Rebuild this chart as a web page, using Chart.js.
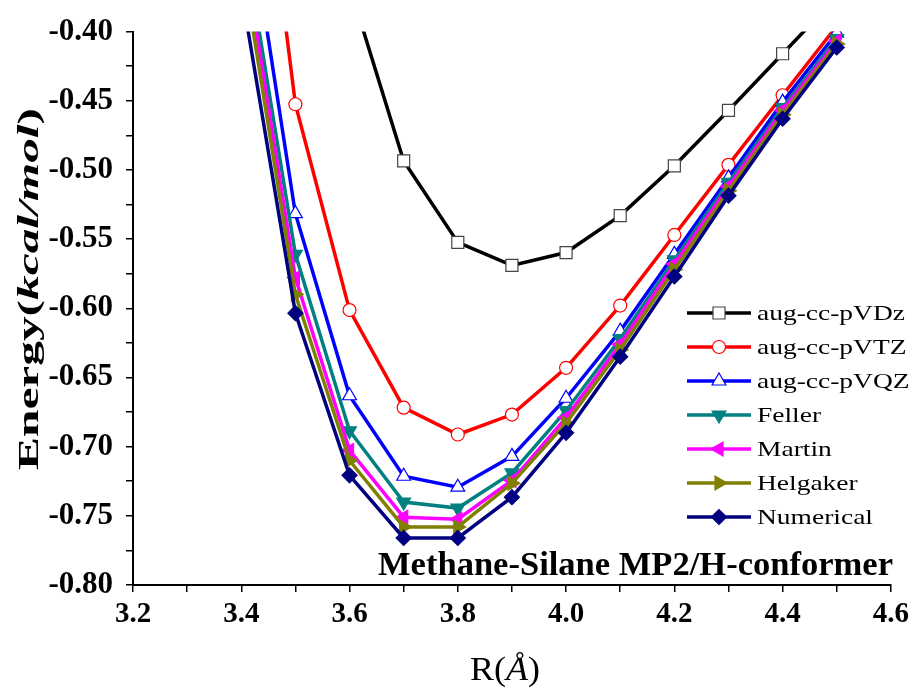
<!DOCTYPE html>
<html>
<head>
<meta charset="utf-8">
<script src="https://cdn.jsdelivr.net/npm/chart.js@4.4.1/dist/chart.umd.min.js"></script>
<style>
  body { margin: 0; background: #fff; }
</style>
</head>
<body>
<canvas id="myChart" width="914" height="691"></canvas>
<script>
// R (Angstrom) values
const rValues = [3.4, 3.5, 3.6, 3.7, 3.8, 3.9, 4.0, 4.1, 4.2, 4.3, 4.4, 4.5];

// energies in kcal/mol
const augDz = [0.10, -0.17, -0.367, -0.4935, -0.5524, -0.569, -0.5597, -0.533, -0.497, -0.457, -0.416, -0.375];
const augTz = [-0.14, -0.4525, -0.6013, -0.6718, -0.6912, -0.6768, -0.643, -0.598, -0.547, -0.4963, -0.446, -0.396];
const augQz = [-0.279, -0.5316, -0.6632, -0.7214, -0.7293, -0.707, -0.665, -0.6165, -0.561, -0.5057, -0.451, -0.401];
const feller = [-0.32, -0.561, -0.6885, -0.740, -0.7444, -0.719, -0.674, -0.622, -0.565, -0.509, -0.455, -0.405];
const martin = [-0.331, -0.578, -0.7027, -0.751, -0.7524, -0.7245, -0.679, -0.626, -0.568, -0.512, -0.457, -0.407];
const helgaker = [-0.346, -0.590, -0.710, -0.758, -0.758, -0.7265, -0.683, -0.630, -0.572, -0.515, -0.460, -0.409];
const numerical = [-0.37, -0.6035, -0.7207, -0.766, -0.766, -0.7365, -0.690, -0.635, -0.577, -0.5186, -0.463, -0.4115];

const seriesNames = ['aug-cc-pVDz', 'aug-cc-pVTZ', 'aug-cc-pVQZ', 'Feller', 'Martin', 'Helgaker', 'Numerical'];
const seriesData = [augDz, augTz, augQz, feller, martin, helgaker, numerical];

const serif = '"Liberation Serif", "Times New Roman", serif';

const styles = [
  { color: '#000000', border: '#444444', fill: '#ffffff', pointStyle: 'rect', radius: 8.5, rotation: 0 },
  { color: '#ff0000', border: '#ff0000', fill: '#ffffff', pointStyle: 'circle', radius: 6.5, rotation: 0 },
  { color: '#0000ff', border: '#0000ff', fill: '#ffffff', pointStyle: 'triangle', radius: 8, rotation: 0 },
  { color: '#008080', border: '#008080', fill: '#008080', pointStyle: 'triangle', radius: 8, rotation: 180 },
  { color: '#ff00ff', border: '#ff00ff', fill: '#ff00ff', pointStyle: 'triangle', radius: 8, rotation: 270 },
  { color: '#808000', border: '#808000', fill: '#808000', pointStyle: 'triangle', radius: 8, rotation: 90 },
  { color: '#000080', border: '#000080', fill: '#000080', pointStyle: 'rectRot', radius: 7.5, rotation: 0 }
];

const datasets = seriesNames.map((name, i) => ({
  label: name,
  data: rValues.map((r, j) => ({ x: r, y: seriesData[i][j] })),
  borderColor: styles[i].color,
  backgroundColor: styles[i].fill,
  borderWidth: 3.5,
  pointStyle: styles[i].pointStyle,
  pointRotation: styles[i].rotation,
  pointRadius: styles[i].radius,
  pointBorderColor: styles[i].border,
  pointBackgroundColor: styles[i].fill,
  pointBorderWidth: 1.2,
  tension: 0,
  order: 6 - i
}));

// draw text pieces stretched horizontally to a target width, starting at x
function stretchedText(c, parts, x, y, width) {
  let total = 0;
  parts.forEach(p => { c.font = p[0]; total += c.measureText(p[1]).width; });
  const sx = width ? width / total : 1;
  c.save();
  c.translate(x, y);
  c.scale(sx, 1);
  let px = 0;
  parts.forEach(p => { c.font = p[0]; c.fillText(p[1], px, 0); px += c.measureText(p[1]).width; });
  c.restore();
  return sx;
}

// legend, annotation and axis titles drawn by hand
const extras = {
  id: 'extras',
  afterDraw(chart) {
    const c = chart.ctx;
    c.save();
    c.textAlign = 'left';

    // legend inside the plot
    const legendFont = '22px ' + serif;
    c.font = legendFont;
    const legendScale = 148 / c.measureText(seriesNames[0]).width;
    styles.forEach((s, i) => {
      const y = 313 + i * 34;
      c.strokeStyle = s.color;
      c.lineWidth = 3.5;
      c.beginPath();
      c.moveTo(687, y);
      c.lineTo(751, y);
      c.stroke();
      c.fillStyle = s.fill;
      c.strokeStyle = s.border;
      c.lineWidth = 1.2;
      Chart.helpers.drawPoint(c, { pointStyle: s.pointStyle, rotation: s.rotation, radius: s.radius, borderWidth: 1.2 }, 719, y);
      c.fillStyle = '#000';
      c.textBaseline = 'middle';
      c.font = legendFont;
      const w = c.measureText(seriesNames[i]).width * legendScale;
      stretchedText(c, [[legendFont, seriesNames[i]]], 757, y + 1, w);
    });

    // annotation
    c.textBaseline = 'alphabetic';
    c.fillStyle = '#000';
    stretchedText(c, [['bold 33px ' + serif, 'Methane-Silane MP2/H-conformer']], 378, 575, 515);

    // y title: Energy(kcal/mol)
    c.save();
    c.translate(30, 289);
    c.rotate(-Math.PI / 2);
    c.textBaseline = 'middle';
    stretchedText(c, [['bold 30px ' + serif, 'Energy('], ['bold italic 30px ' + serif, 'kcal/mol'], ['bold 30px ' + serif, ')']], -181, 0, 362);
    c.restore();

    // x title: R(Å)
    c.textBaseline = 'alphabetic';
    stretchedText(c, [['34px ' + serif, 'R('], ['italic 34px ' + serif, 'Å'], ['34px ' + serif, ')']], 470, 680, 70);

    c.restore();
  }
};

new Chart(document.getElementById('myChart'), {
  type: 'line',
  data: { datasets: datasets },
  options: {
    responsive: false,
    animation: false,
    layout: { padding: { left: 0, top: 29, right: 23, bottom: 0 } },
    plugins: {
      legend: { display: false },
      tooltip: { enabled: false }
    },
    scales: {
      x: {
        type: 'linear',
        min: 3.2,
        max: 4.6,
        afterFit(scale) { scale.height = 106; },
        border: { display: true, color: '#000', width: 2 },
        grid: { display: true, drawOnChartArea: false, drawTicks: true, tickLength: 7, color: '#000', lineWidth: 1.5 },
        ticks: {
          stepSize: 0.1,
          autoSkip: false,
          maxRotation: 0,
          padding: 5,
          color: '#000',
          font: { family: serif, size: 29, weight: 'bold' },
          callback: v => (Math.round(v * 10) % 2 === 0 ? v.toFixed(1) : '')
        }
      },
      y: {
        min: -0.80,
        max: -0.40,
        afterFit(scale) { scale.width = 133; },
        border: { display: true, color: '#000', width: 2 },
        grid: { display: true, drawOnChartArea: false, drawTicks: true, tickLength: 7, color: '#000', lineWidth: 1.5 },
        ticks: {
          stepSize: 0.025,
          autoSkip: false,
          padding: 13,
          color: '#000',
          font: { family: serif, size: 31, weight: 'bold' },
          callback: v => (Math.round(v * 1000) % 50 === 0 ? v.toFixed(2) : '')
        }
      }
    }
  },
  plugins: [extras]
});
</script>
</body>
</html>
